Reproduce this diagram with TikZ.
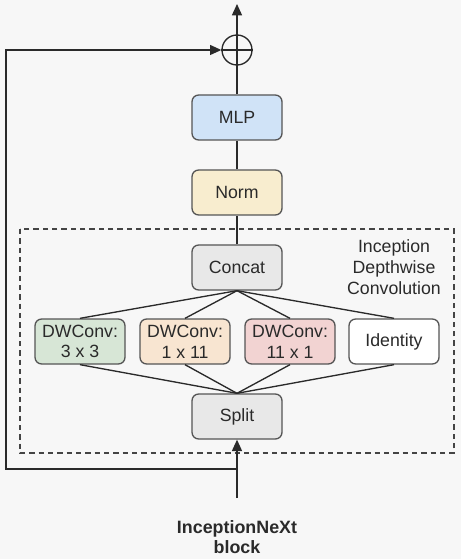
\documentclass[tikz,border=0pt]{standalone}
\usepackage{fontspec}
\setmainfont{Liberation Sans}
\usetikzlibrary{arrows.meta}
\definecolor{bg}{HTML}{F7F7F7}
\definecolor{strk}{HTML}{555555}
\definecolor{ln}{HTML}{2A2A2A}
\definecolor{cblue}{HTML}{D0E3F7}
\definecolor{cyel}{HTML}{F8EDCF}
\definecolor{cgray}{HTML}{E8E8E8}
\definecolor{cgreen}{HTML}{D7E6D6}
\definecolor{corange}{HTML}{F8E5D1}
\definecolor{cred}{HTML}{F2D3D2}
\tikzset{
  box/.style={draw=strk, line width=1pt, rounded corners=5pt, minimum width=67.5pt, minimum height=33.75pt, inner sep=0pt, align=center, font=\fontsize{13.3}{15.5}\selectfont, text=ln},
  conn/.style={draw=ln, line width=1pt},
  arr/.style={conn, -{Triangle[length=8.5pt,width=7.5pt]}},
}
\begin{document}
\begin{tikzpicture}[x=0.75pt,y=-0.75pt]
\fill[bg] (0,0) rectangle (461,559);
\useasboundingbox (0,0) rectangle (461,559);
% dashed container
\draw[strk!80!black, line width=1pt, dash pattern=on 4pt off 3pt] (20,229) rectangle (454,453);
\node[font=\fontsize{13.3}{16}\selectfont, text=ln, align=center] (lbl) at (394,267) {Inception\\Depthwise\\Convolution};
% nodes
\node[box, fill=cblue] (mlp) at (237,117.5) {MLP};
\node[box, fill=cyel] (norm) at (237,192.5) {Norm};
\node[box, fill=cgray] (concat) at (237,267.5) {Concat};
\node[box, fill=cgreen] (c1) at (80,341.5) {DWConv:\\3 x 3};
\node[box, fill=corange] (c2) at (185,341.5) {DWConv:\\1 x 11};
\node[box, fill=cred] (c3) at (290,341.5) {DWConv:\\11 x 1};
\node[box, fill=white] (c4) at (394,341.5) {Identity};
\node[box, fill=cgray] (split) at (237,416.5) {Split};
\node[draw=ln, line width=1pt, circle, minimum size=22.5pt, inner sep=0pt] (plus) at (237,50) {};
\draw[conn] (plus.north) -- (plus.south) (plus.west) -- (plus.east);
\coordinate (top) at (237,4);
\coordinate (bot) at (237,498);
\coordinate (bl) at (6,469);
\coordinate (tl) at (6,50);
\coordinate (br) at (237,469);
\node[font=\fontsize{13.4}{15.5}\selectfont\bfseries, text=ln, align=center] (title) at (237,537) {InceptionNeXt\\block};
% connectors
\draw[arr] (plus.north) -- (top);
\draw[conn] (mlp.north) -- (plus.south);
\draw[conn] (norm.north) -- (mlp.south);
\draw[conn] (concat.north) -- (norm.south);
\foreach \c in {c1,c2,c3,c4}{
  \draw[conn] (concat.south) -- (\c.north);
  \draw[conn] (\c.south) -- (split.north);
}
\draw[arr] (bot) -- (split.south);
\draw[arr] (br) -- (bl) -- (tl) -- (plus.west);
\end{tikzpicture}
\end{document}
